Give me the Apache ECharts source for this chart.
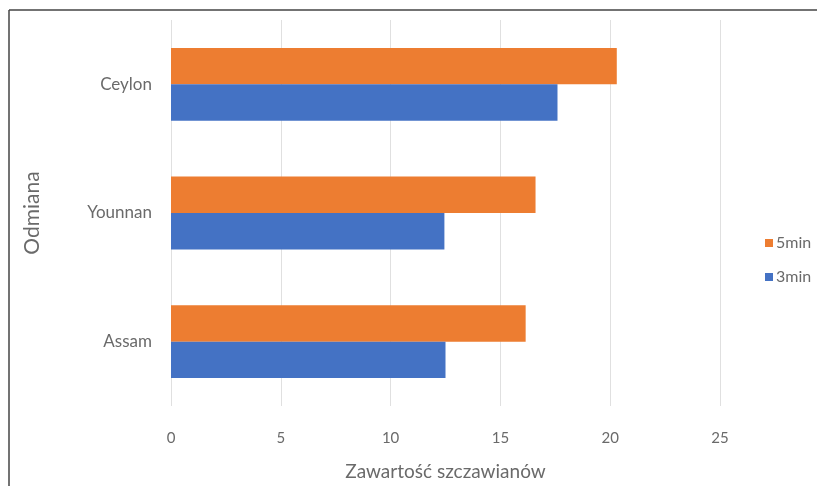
<!DOCTYPE html>
<html>
<head>
<meta charset="utf-8">
<script src="https://cdn.jsdelivr.net/npm/echarts@6/dist/echarts.min.js"></script>
<style>
html,body{margin:0;padding:0;background:#fff;}
#c{width:817px;height:486px;}
</style>
</head>
<body>
<div id="c"></div>
<script>
var categories = ['Assam', 'Younnan', 'Ceylon'];
var series3min = [12.5, 12.45, 17.6];
var series5min = [16.15, 16.6, 20.3];
var xTicks = [0, 5, 10, 15, 20, 25];

var chart = echarts.init(document.getElementById('c'));
var txt = '#6a6a6a';
var font = 'Lato, "Open Sans", sans-serif';
chart.setOption({
  animation: false,
  backgroundColor: '#fff',
  textStyle: {fontFamily: font},
  grid: {left: 171, right: 97, top: 20, bottom: 79, containLabel: false},
  legend: {
    orient: 'vertical', left: 760, top: 230,
    data: ['5min', '3min'],
    itemWidth: 8, itemHeight: 8, itemGap: 18,
    icon: 'rect',
    textStyle: {color: txt, fontSize: 16, fontFamily: font, padding: [0,0,0,-2]}
  },
  xAxis: {
    type: 'value', min: xTicks[0], max: xTicks[xTicks.length-1], interval: 5,
    name: 'Zawartość szczawianów', nameLocation: 'middle', nameGap: 56,
    nameTextStyle: {color: txt, fontSize: 19, fontFamily: font},
    axisLine: {show: false}, axisTick: {show: false},
    axisLabel: {color: txt, fontSize: 15, margin: 25, fontFamily: font},
    splitLine: {show: true, lineStyle: {color: '#e0e0e0', width: 1}}
  },
  yAxis: {
    type: 'category', data: categories,
    name: 'Odmiana', nameLocation: 'middle', nameGap: 128, nameRotate: 90,
    nameTextStyle: {color: txt, fontSize: 21, fontFamily: font},
    axisLine: {show: false}, axisTick: {show: false},
    axisLabel: {color: txt, fontSize: 17, margin: 19, fontFamily: font}
  },
  series: [
    {name: '5min', type: 'bar', data: series5min, itemStyle: {color: '#ED7D31'}, barGap: '0%', barCategoryGap: '43.4%'},
    {name: '3min', type: 'bar', data: series3min, itemStyle: {color: '#4472C4'}, barGap: '0%', barCategoryGap: '43.4%'}
  ],
  graphic: [
    {type: 'line', shape: {x1: 9, y1: 10, x2: 817, y2: 10}, style: {stroke: '#444', lineWidth: 1.5}},
    {type: 'line', shape: {x1: 9, y1: 10, x2: 9, y2: 486}, style: {stroke: '#444', lineWidth: 1.5}}
  ]
});
</script>
</body>
</html>
